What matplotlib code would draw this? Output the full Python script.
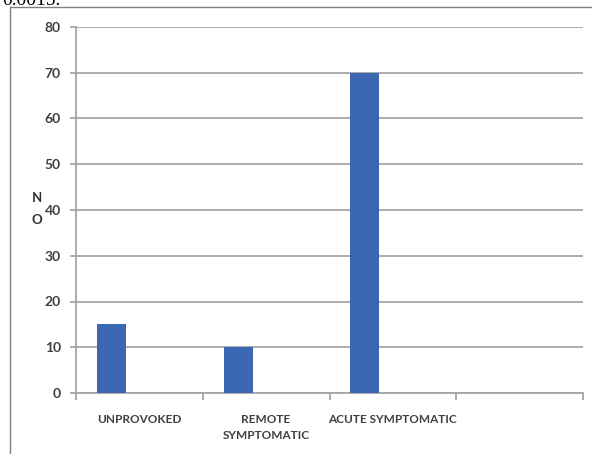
import numpy as np
import matplotlib.pyplot as plt
from matplotlib.lines import Line2D

categories = ["UNPROVOKED", "REMOTE\nSYMPTOMATIC", "ACUTE SYMPTOMATIC", ""]
counts = [15, 10, 70]
yticks = [0, 10, 20, 30, 40, 50, 60, 70, 80]

W, H = 592, 454
fig = plt.figure(figsize=(W / 100, H / 100), dpi=100)
ax = fig.add_axes([76 / W, 1 - 393 / H, (583 - 76) / W, (393 - 27) / H])

grey = '#a6a6a6'
txt = '#404040'

# bars sit in the first of three slots per category (excel style cluster)
x = np.arange(len(counts))
ax.bar(x - 0.221, counts, width=0.228, color='#3b67b3', zorder=3)

ax.set_xlim(-0.5, len(categories) - 0.5)
ax.set_ylim(0, 80)
ax.set_yticks(yticks)
ax.yaxis.grid(True, color=grey, linewidth=1.3, zorder=0)

ax.set_xticks(np.arange(len(categories)))
ax.set_xticklabels(categories, fontsize=8.5, color=txt, family='Lato',
                   fontweight='bold', linespacing=1.6)
ax.set_xticks(np.arange(len(categories) + 1) - 0.5, minor=True)
ax.tick_params(axis='x', which='major', length=0, pad=15)
ax.tick_params(axis='x', which='minor', length=5, color=grey, width=1.3)
ax.tick_params(axis='y', length=4, color=grey, width=1.3, pad=7,
               labelsize=10, labelcolor=txt)
for lab in ax.get_yticklabels():
    lab.set_family('Lato')
    lab.set_fontweight('bold')

for s in ['top', 'right']:
    ax.spines[s].set_visible(False)
for s in ['left', 'bottom']:
    ax.spines[s].set_color(grey)
    ax.spines[s].set_linewidth(1.3)

fig.text(37 / W, 1 - 209 / H, "N\nO", fontsize=9.5, fontweight='bold',
         family='Lato', color='#303030', ha='center', va='center',
         linespacing=1.9)

# outer frame of the figure panel
fig.add_artist(Line2D([10 / W, 10 / W], [0, 1 - 7 / H], color='#808080',
                      linewidth=1.0, transform=fig.transFigure))
fig.add_artist(Line2D([10 / W, 1], [1 - 7 / H, 1 - 7 / H], color='#808080',
                      linewidth=1.0, transform=fig.transFigure))

# caption text cut off by the top edge, as in the source page
fig.text(2 / W, 1 - 5 / H, "0.0015.", fontsize=14, family='Liberation Serif',
         color='black', ha='left', va='baseline')

fig.savefig('out.png', dpi=100)
